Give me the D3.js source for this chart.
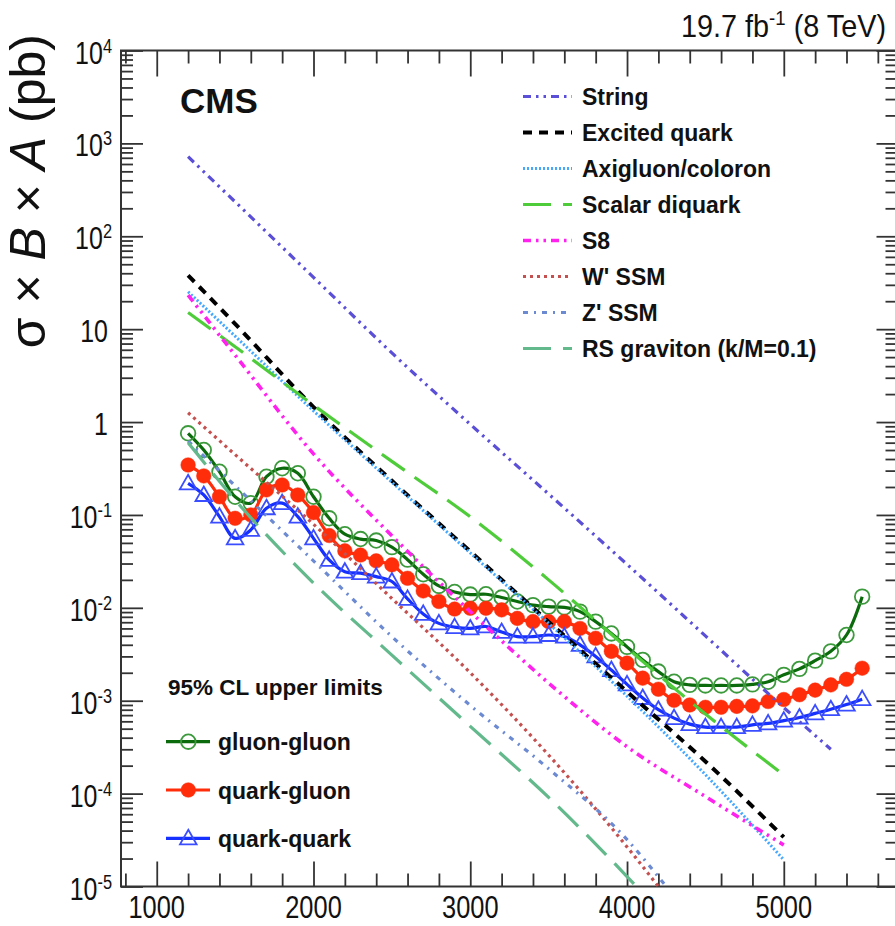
<!DOCTYPE html>
<html>
<head>
<meta charset="utf-8">
<script src="https://cdn.jsdelivr.net/npm/d3@7"></script>
<style>
  body { margin: 0; background: #fff; }
  svg { display: block; font-family: "Liberation Sans", Arial, Helvetica, sans-serif; }
</style>
</head>
<body>
<svg id="chart" width="895" height="926"></svg>
<script>
// ---- Observed 95% CL upper limits on sigma x B x A (pb) vs resonance mass (GeV)
const limitMass = [1200,1300,1400,1500,1600,1700,1800,1900,2000,2100,2200,2300,2400,2500,2600,2700,2800,2900,3000,
  3100,3200,3300,3400,3500,3600,3700,3800,3900,4000,4100,4200,4300,4400,4500,4600,4700,4800,4900,5000,
  5100,5200,5300,5400,5500];
const gluonGluon = [0.757,0.50,0.292,0.157,0.134,0.258,0.318,0.281,0.157,0.092,0.062,0.055,0.053,0.045,0.033,0.023,0.0172,0.0148,0.0139,
  0.0140,0.0129,0.0117,0.0107,0.0103,0.0101,0.0091,0.0071,0.0053,0.0038,0.00275,0.00206,0.0016,0.00148,0.00146,0.00146,0.00146,0.0015,0.0016,0.0019,
  0.0022,0.0027,0.0034,0.0051,0.0132];
const quarkGluon = [0.345,0.263,0.157,0.092,0.100,0.186,0.210,0.164,0.106,0.060,0.041,0.037,0.032,0.029,0.0208,0.0152,0.0117,0.0097,0.0099,
  0.0099,0.0095,0.0077,0.0071,0.0071,0.0071,0.0060,0.0047,0.0034,0.00254,0.00175,0.00133,0.00101,0.0009,0.00085,0.00085,0.00087,0.00088,0.00098,0.00103,
  0.00116,0.0013,0.00148,0.0017,0.00224];
const quarkQuark = [0.219,0.164,0.096,0.056,0.069,0.118,0.134,0.096,0.056,0.0328,0.0245,0.0236,0.0217,0.0192,0.0125,0.0086,0.0068,0.0062,0.0060,
  0.0063,0.0055,0.0049,0.0049,0.0051,0.0049,0.0040,0.0030,0.00214,0.0015,0.00107,0.0008,0.00065,0.00056,0.00052,0.00052,0.00052,0.00055,0.00057,0.00061,
  0.00066,0.00073,0.00081,0.00091,0.00104];

// ---- Theory predictions (pb)
const stringMass   = [1200,1500,2000,2500,3000,3500,4000,4500,5000,5300];
const stringXsec   = [719,235,36.1,5.55,0.946,0.168,0.0294,0.00499,0.000843,0.00030];
const qstarMass    = [1200,1500,2000,2500,3000,3500,4000,4500,5000];
const qstarXsec    = [38,11.4,1.45,0.233,0.0404,0.00706,0.00125,0.000222,0.000034];
const axiMass      = [1200,1500,2000,2500,3000,3500,4000,4500,5000];
const axiXsec      = [25.3,8.4,1.32,0.225,0.039,0.0068,0.00112,0.00016,0.0000194];
const diquarkMass  = [1200,1500,2000,2500,3000,3500,4000,4500,5000];
const diquarkXsec  = [15.1,6.47,1.52,0.377,0.0955,0.020,0.0037,0.00072,0.000159];
const s8Mass       = [1200,1500,2000,2500,3000,3500,4000,4500,5000];
const s8Xsec       = [23.3,5.25,0.454,0.0597,0.0091,0.00155,0.00032,0.000093,0.000028];
const wprimeMass   = [1200,1500,2000,2500,3000,3500,4000,4200];
const wprimeXsec   = [1.26,0.446,0.0794,0.0126,0.0020,0.00026,0.0000267,0.0000100];
const zprimeMass   = [1200,1500,2000,2500,3000,3500,4000,4250];
const zprimeXsec   = [0.625,0.206,0.032,0.0049,0.00089,0.000185,0.000032,0.0000100];
const rsgMass      = [1200,1500,2000,2500,3000,3500,4000,4060];
const rsgXsec      = [0.6,0.145,0.0185,0.0031,0.00053,0.000091,0.0000128,0.0000100];

// ---- Axis tick labels
const xTickLabels = ["1000","2000","3000","4000","5000"];
const yTickExponents = [4,3,2,1,0,-1,-2,-3,-4,-5];

// ---------------------------------------------------------------------------
const svg = d3.select("#chart");
const W = 895, H = 926;
const plot = { left: 121, right: 896.5, top: 50.5, bottom: 886.5 };

const x = d3.scaleLinear().domain([772, 5719]).range([plot.left, plot.right]);
const y = d3.scaleLog().domain([1e-5, 1e4]).range([plot.bottom, plot.top]);

svg.append("rect").attr("width", W).attr("height", H).attr("fill", "#fff");

svg.append("clipPath").attr("id", "plotClip")
  .append("rect")
  .attr("x", plot.left).attr("y", plot.top)
  .attr("width", plot.right - plot.left).attr("height", plot.bottom - plot.top);

// ---- Axes (ticks point into the frame on all four sides)
const axisColor = "#333";
const xMajor = xTickLabels.map(Number);
const xMinor = d3.range(800, 5720, 200).filter(v => v % 1000 !== 0);
const yMajor = yTickExponents.map(e => Math.pow(10, e));
const yMinor = [];
for (let e = -5; e < 4; e++) for (let k = 2; k <= 9; k++) yMinor.push(k * Math.pow(10, e));

function styleAxis(g) {
  g.select(".domain").remove();
  g.selectAll(".tick line").attr("stroke", axisColor).attr("stroke-width", 1.8);
}

const gx = svg.append("g").attr("transform", `translate(0,${plot.bottom})`);
gx.append("g").call(d3.axisBottom(x).tickValues(xMinor).tickSize(-13).tickFormat("")).call(styleAxis);
gx.append("g").call(d3.axisBottom(x).tickValues(xMajor).tickSize(-25).tickFormat("")).call(styleAxis);

// x tick labels, slightly condensed
const xLab = svg.append("g").attr("fill", "#111");
xMajor.forEach((v, i) => {
  xLab.append("g").attr("transform", `translate(${x(v)},918) scale(0.82,1)`)
    .append("text").attr("text-anchor", "middle").attr("font-size", 31).text(xTickLabels[i]);
});

const gxt = svg.append("g").attr("transform", `translate(0,${plot.top})`);
gxt.append("g").call(d3.axisTop(x).tickValues(xMinor).tickSize(-13).tickFormat("")).call(styleAxis);
gxt.append("g").call(d3.axisTop(x).tickValues(xMajor).tickSize(-26).tickFormat("")).call(styleAxis);

const gy = svg.append("g").attr("transform", `translate(${plot.left},0)`);
gy.append("g").call(d3.axisLeft(y).tickValues(yMinor).tickSize(-12).tickFormat("")).call(styleAxis);
gy.append("g").call(d3.axisLeft(y).tickValues(yMajor).tickSize(-22).tickFormat("")).call(styleAxis);

const gyr = svg.append("g").attr("transform", `translate(${plot.right},0)`);
gyr.append("g").call(d3.axisRight(y).tickValues(yMinor).tickSize(-11).tickFormat("")).call(styleAxis);
gyr.append("g").call(d3.axisRight(y).tickValues(yMajor).tickSize(-20).tickFormat("")).call(styleAxis);

// y tick labels: 10^n, with plain "10" and "1" for n = 1, 0
const yLab = svg.append("g").attr("fill", "#111");
yTickExponents.forEach(e => {
  const g = yLab.append("g")
    .attr("transform", `translate(${e >= 2 || e < 0 ? 112 : 108},${y(Math.pow(10, e)) + 13}) scale(0.78,1)`);
  const t = g.append("text").attr("text-anchor", "end").attr("font-size", 32);
  if (e === 0) {
    t.append("tspan").text("1");
  } else if (e === 1) {
    t.append("tspan").text("10");
  } else {
    t.append("tspan").text("10");
    t.append("tspan").attr("dy", -11).attr("font-size", 21).text(e < 0 ? "-" + (-e) : String(e));
  }
});

// frame
svg.append("rect")
  .attr("x", plot.left).attr("y", plot.top)
  .attr("width", plot.right - plot.left).attr("height", plot.bottom - plot.top)
  .attr("fill", "none").attr("stroke", axisColor).attr("stroke-width", 2);

// ---- Curves
const plotArea = svg.append("g").attr("clip-path", "url(#plotClip)");

function drawLimit(values, lineColor, markerColor, marker) {
  const pts = limitMass.map((m, i) => [x(m), y(values[i])]);
  plotArea.append("path")
    .attr("d", d3.line().curve(d3.curveCatmullRom.alpha(0.5))(pts))
    .attr("fill", "none").attr("stroke", lineColor).attr("stroke-width", 3.2);
  const mg = plotArea.append("g");
  pts.forEach(p => marker(mg, p[0], p[1], markerColor));
}

const openCircle = (g, cx, cy, c) => g.append("circle").attr("cx", cx).attr("cy", cy).attr("r", 7.3)
  .attr("fill", "none").attr("stroke", c).attr("stroke-width", 1.8);
const fullCircle = (g, cx, cy, c) => g.append("circle").attr("cx", cx).attr("cy", cy).attr("r", 7.3)
  .attr("fill", c).attr("stroke", c).attr("stroke-width", 0.5);
const openTriangle = (g, cx, cy, c) => g.append("path")
  .attr("d", `M${cx},${cy - 8.5}L${cx + 8.3},${cy + 6}L${cx - 8.3},${cy + 6}Z`)
  .attr("fill", "none").attr("stroke", c).attr("stroke-width", 1.8);

drawLimit(gluonGluon, "#0b6a0b", "#3c9a3c", openCircle);
drawLimit(quarkGluon, "#ff2d0a", "#ff2d0a", fullCircle);
drawLimit(quarkQuark, "#1530ff", "#3a4dff", openTriangle);

const theory = [
  { name: "String", mass: stringMass, xs: stringXsec, color: "#5a4fd6", width: 3.2, dash: "8,5,2.5,5,2.5,5" },
  { name: "Excited quark", mass: qstarMass, xs: qstarXsec, color: "#000000", width: 4, dash: "9,7" },
  { name: "Axigluon/coloron", mass: axiMass, xs: axiXsec, color: "#45a8ff", width: 3, dash: "2,2" },
  { name: "Scalar diquark", mass: diquarkMass, xs: diquarkXsec, color: "#4fcc3a", width: 3.2, dash: "28,12" },
  { name: "S8", mass: s8Mass, xs: s8Xsec, color: "#ff22ee", width: 3.6, dash: "8,5,2.5,5,2.5,5" },
  { name: "W' SSM", mass: wprimeMass, xs: wprimeXsec, color: "#c4504f", width: 3.2, dash: "3,4" },
  { name: "Z' SSM", mass: zprimeMass, xs: zprimeXsec, color: "#6c8ad2", width: 3.2, dash: "5,6,2,6" },
  { name: "RS graviton (k/M=0.1)", mass: rsgMass, xs: rsgXsec, color: "#63b98c", width: 3.2, dash: "28,12" }
];

theory.forEach(s => {
  const pts = s.mass.map((m, i) => [x(m), y(s.xs[i])]);
  plotArea.append("path")
    .attr("d", d3.line().curve(d3.curveMonotoneX)(pts))
    .attr("fill", "none").attr("stroke", s.color)
    .attr("stroke-width", s.width).attr("stroke-dasharray", s.dash);
});

// ---- Theory legend
const leg = svg.append("g");
theory.forEach((s, i) => {
  const ry = 96.5 + i * 36;
  leg.append("line").attr("x1", 523).attr("x2", 572).attr("y1", ry).attr("y2", ry)
    .attr("stroke", s.color).attr("stroke-width", s.width).attr("stroke-dasharray", s.dash);
  leg.append("text").attr("x", 582).attr("y", ry + 8.5)
    .attr("font-size", 23).attr("font-weight", "bold").attr("fill", "#111").text(s.name);
});

// ---- Limit legend
const leg2 = svg.append("g");
leg2.append("text").attr("x", 168).attr("y", 695).attr("font-size", 22.5)
  .attr("font-weight", "bold").attr("fill", "#111").text("95% CL upper limits");
const limitLegend = [
  { label: "gluon-gluon", line: "#0b6a0b", mc: "#3c9a3c", marker: openCircle },
  { label: "quark-gluon", line: "#ff2d0a", mc: "#ff2d0a", marker: fullCircle },
  { label: "quark-quark", line: "#1530ff", mc: "#3a4dff", marker: openTriangle }
];
limitLegend.forEach((e, i) => {
  const ry = 741.7 + i * 48.3;
  leg2.append("line").attr("x1", 166).attr("x2", 210).attr("y1", ry).attr("y2", ry)
    .attr("stroke", e.line).attr("stroke-width", 3.2);
  e.marker(leg2, 188.3, ry, e.mc);
  leg2.append("text").attr("x", 218).attr("y", ry + 8.5).attr("font-size", 23)
    .attr("font-weight", "bold").attr("fill", "#111").text(e.label);
});

// ---- Labels
svg.append("text").attr("x", 180).attr("y", 113).attr("font-size", 35)
  .attr("font-weight", "bold").attr("fill", "#111").text("CMS");

const lumi = svg.append("g").attr("transform", "translate(886,37) scale(0.93,1)")
  .append("text").attr("text-anchor", "end").attr("font-size", 31).attr("fill", "#111");
lumi.append("tspan").text("19.7 fb");
lumi.append("tspan").attr("dy", -12).attr("font-size", 20).text("-1");
lumi.append("tspan").attr("dy", 12).text(" (8 TeV)");

const ytitle = svg.append("text")
  .attr("transform", "translate(45,34) rotate(-90)")
  .attr("text-anchor", "end").attr("font-size", 50).attr("fill", "#111");
ytitle.append("tspan").text("σ × ");
ytitle.append("tspan").attr("font-style", "italic").text("B");
ytitle.append("tspan").text(" × ");
ytitle.append("tspan").attr("font-style", "italic").text("A");
ytitle.append("tspan").text(" (pb)");
</script>
</body>
</html>
